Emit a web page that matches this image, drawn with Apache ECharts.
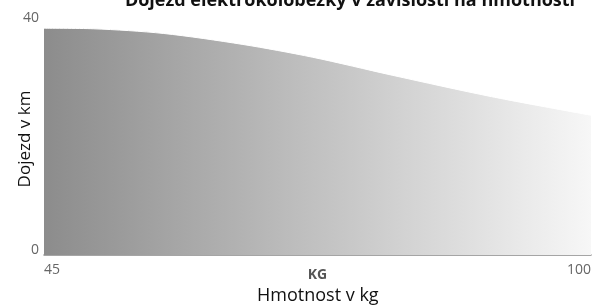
<!DOCTYPE html>
<html>
<head>
<meta charset="utf-8">
<script src="https://cdn.jsdelivr.net/npm/echarts@6/dist/echarts.min.js"></script>
<style>
 html,body{margin:0;padding:0;background:#fff;}
 #chart{width:596px;height:308px;}
</style>
</head>
<body>
<div id="chart"></div>
<script>
// hmotnost jezdce (kg) a dojezd (km)
var kg = [45, 50, 57, 65, 72, 80, 90, 100];
var dojezd = [39.1, 39.0, 38.2, 36.3, 34.1, 31.0, 27.3, 24.1];
var xTicks = [45, 100];
var yTicks = [0, 40];

var points = [];
for (var i = 0; i < kg.length; i++) {
	points.push([kg[i], dojezd[i]]);
}

var myChart = echarts.init(document.getElementById("chart"));
var option = {
	animation: false,
	title: {
		text: "Dojezd elektrokoloběžky v závislosti na hmotnosti",
		left: 345,
		top: -13,
		textAlign: "center",
		textStyle: {
			fontFamily: "Open Sans",
			fontWeight: "bold",
			fontSize: 18,
			color: "#111"
		}
	},
	grid: {
		left: 44,
		right: 5,
		top: 23,
		bottom: 53,
		containLabel: false,
		outerBoundsMode: "none"
	},
	xAxis: {
		type: "value",
		min: 45,
		max: 100,
		name: "KG",
		nameLocation: "middle",
		nameGap: 13,
		nameRotate: 0,
		nameMoveOverlap: false,
		nameTextStyle: {
			fontFamily: "Open Sans",
			fontWeight: "bold",
			fontSize: 14,
			color: "#555"
		},
		axisLine: {lineStyle: {color: "#888", width: 1.5}},
		axisTick: {show: false},
		splitLine: {show: false},
		axisLabel: {
			customValues: xTicks,
			alignMinLabel: "left",
			alignMaxLabel: "right",
			margin: 8,
			fontFamily: "Open Sans",
			fontSize: 14,
			color: "#666"
		}
	},
	yAxis: {
		type: "value",
		min: 0,
		max: 40,
		name: "Dojezd v km",
		nameLocation: "middle",
		nameGap: 10,
		nameMoveOverlap: false,
		nameTextStyle: {
			fontFamily: "Open Sans",
			fontSize: 17,
			color: "#111"
		},
		axisLine: {show: false},
		axisTick: {show: false},
		splitLine: {show: false},
		axisLabel: {
			customValues: yTicks,
			verticalAlign: "bottom",
			margin: 5,
			padding: [0, 0, -2, 0],
			fontFamily: "Open Sans",
			fontSize: 14,
			color: "#666"
		}
	},
	graphic: [{
		type: "text",
		left: 257,
		top: 287,
		style: {
			text: "Hmotnost v kg",
			font: "18px 'Open Sans'",
			fill: "#111"
		}
	}],
	series: [{
		type: "line",
		data: points,
		smooth: 0.3,
		showSymbol: false,
		lineStyle: {color: "#fff", width: 1},
		areaStyle: {
			opacity: 1,
			color: new echarts.graphic.LinearGradient(0, 0, 1, 0, [
				{offset: 0, color: "#8c8c8c"},
				{offset: 1, color: "#f7f7f7"}
			])
		}
	}]
};
myChart.setOption(option);
</script>
</body>
</html>
